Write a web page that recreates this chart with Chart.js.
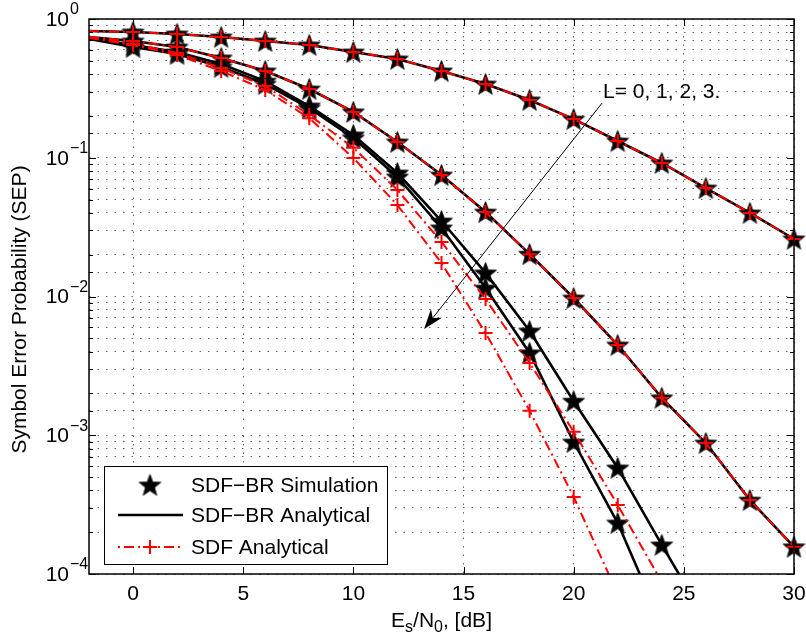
<!DOCTYPE html>
<html>
<head>
<meta charset="utf-8">
<script src="https://cdn.jsdelivr.net/npm/chart.js@4.4.0/dist/chart.umd.min.js"></script>
<style>
  html, body { margin: 0; padding: 0; background: #fff; }
  #contenedor { width: 806px; height: 640px; }
</style>
</head>
<body>
<div id="contenedor"><canvas id="graficoSEP" width="806" height="640"></canvas></div>
<script>
// Datos: SEP vs Es/N0 [dB]
const snrDb = [-2, 0, 2, 4, 6, 8, 10, 12, 14, 16, 18, 20, 22, 24, 26, 28, 30];
const xTicks = [0, 5, 10, 15, 20, 25, 30];
const yDecadas = [1, 0.1, 0.01, 0.001, 0.0001];
const yExponentes = ['0', '\u22121', '\u22122', '\u22123', '\u22124'];

// SDF-BR (simulación y analítico coinciden)
const brL0 = [0.819, 0.806, 0.780, 0.742, 0.694, 0.650, 0.578, 0.515, 0.422, 0.340, 0.261, 0.190, 0.132, 0.0917, 0.0605, 0.0400, 0.0260];
const brL1 = [0.742, 0.694, 0.628, 0.524, 0.422, 0.313, 0.214, 0.130, 0.0751, 0.0406, 0.0202, 0.00975, 0.00447, 0.00186, 0.000879, 0.000341, 0.000157];
const brL2 = [0.730, 0.650, 0.578, 0.474, 0.357, 0.236, 0.146, 0.0776, 0.0350, 0.0148, 0.00564, 0.00176, 0.000581, 0.000162, 0.0000466];
const brL3 = [0.718, 0.628, 0.560, 0.451, 0.340, 0.228, 0.139, 0.0727, 0.0312, 0.0115, 0.00392, 0.000894, 0.000233, 0.0000429];

// SDF analítico
const sdfL0 = [0.819, 0.806, 0.780, 0.742, 0.694, 0.650, 0.578, 0.515, 0.422, 0.340, 0.261, 0.190, 0.132, 0.0917, 0.0605, 0.0400, 0.0260];
const sdfL1 = [0.742, 0.694, 0.628, 0.524, 0.422, 0.313, 0.214, 0.130, 0.0751, 0.0406, 0.0202, 0.00975, 0.00447, 0.00186, 0.000879, 0.000341, 0.000157];
const sdfL2 = [0.742, 0.661, 0.569, 0.443, 0.329, 0.203, 0.118, 0.0586, 0.0247, 0.00959, 0.00332, 0.00106, 0.000314, 0.0000876];
const sdfL3 = [0.730, 0.650, 0.550, 0.422, 0.308, 0.193, 0.0996, 0.0456, 0.0174, 0.00546, 0.00150, 0.000359, 0.0000718];

// Anotación "L= 0, 1, 2, 3." (coordenadas en datos)
const textoAnotacion = 'L= 0, 1, 2, 3.';
const posTexto = { x: 21.33, y: 0.2696 };
const flechaInicio = { x: 21.29, y: 0.248 };
const flechaFin = { x: 13.21, y: 0.00583 };

const FUENTE = '"Liberation Sans", Arial, Helvetica, sans-serif';
const ROJO = '#ff0000';
const PUNTEADO = [1.5, 7];

function puntos(valores) {
    return valores.map((v, i) => ({ x: snrDb[i], y: v }));
}

// Pentagrama relleno como en MATLAB
function crearEstrella(r) {
    const c = document.createElement('canvas');
    const lado = Math.ceil(r * 2 + 2);
    c.width = lado; c.height = lado;
    const g = c.getContext('2d');
    const cx = lado / 2, cy = lado / 2 + r * 0.08;
    const ri = r * 0.42;
    g.beginPath();
    for (let k = 0; k < 10; k++) {
        const ang = -Math.PI / 2 + k * Math.PI / 5;
        const rad = k % 2 === 0 ? r : ri;
        const px = cx + rad * Math.cos(ang), py = cy + rad * Math.sin(ang);
        if (k === 0) g.moveTo(px, py); else g.lineTo(px, py);
    }
    g.closePath();
    g.fillStyle = '#000';
    g.fill();
    g.strokeStyle = '#222';
    g.lineWidth = 1;
    g.stroke();
    return c;
}
const estrella = crearEstrella(11.5);

const clipMarcas = { left: 14, right: 14, top: 14, bottom: 0 };
const ocultarIzq = (r) => ctx => (ctx.raw && ctx.raw.x < 0 ? 0 : r);

function serieSDF(valores) {
    return {
        data: puntos(valores),
        borderColor: ROJO,
        borderWidth: 2,
        borderDash: [10, 4, 2, 4],
        pointStyle: 'cross',
        pointRadius: ocultarIzq(7),
        pointBorderColor: ROJO,
        pointBorderWidth: 2,
        fill: false,
        tension: 0,
        clip: clipMarcas
    };
}
function serieBR(valores) {
    return {
        data: puntos(valores),
        borderColor: '#000',
        borderWidth: 2.6,
        pointRadius: 0,
        fill: false,
        tension: 0,
        clip: 0
    };
}
function serieSim(valores) {
    return {
        data: puntos(valores),
        showLine: false,
        pointStyle: estrella,
        pointRadius: ocultarIzq(11),
        clip: clipMarcas
    };
}

function linea(ctx, x1, y1, x2, y2) {
    ctx.beginPath();
    ctx.moveTo(x1, y1);
    ctx.lineTo(x2, y2);
    ctx.stroke();
}

function esDecada(v) {
    const l = Math.log10(v);
    return Math.abs(l - Math.round(l)) < 1e-6;
}

// Marco, ticks, etiquetas, leyenda y anotación al estilo MATLAB
const decoracion = {
    id: 'decoracion',
    afterDraw(chart) {
        const { ctx, chartArea: a, scales: { x, y } } = chart;
        ctx.save();
        ctx.strokeStyle = '#000';
        ctx.fillStyle = '#000';

        // ticks del eje x (abajo y arriba)
        ctx.lineWidth = 1;
        xTicks.forEach(t => {
            const px = Math.round(x.getPixelForValue(t)) + 0.5;
            linea(ctx, px, a.bottom, px, a.bottom - 7);
            linea(ctx, px, a.top, px, a.top + 7);
        });
        // ticks del eje y (izquierda y derecha)
        y.ticks.forEach(t => {
            const py = Math.round(y.getPixelForValue(t.value)) + 0.5;
            const largo = esDecada(t.value) ? 7 : 4;
            linea(ctx, a.left, py, a.left + largo, py);
            linea(ctx, a.right, py, a.right - largo, py);
        });

        // marco
        ctx.lineWidth = 1.5;
        ctx.strokeRect(a.left, a.top, a.right - a.left, a.bottom - a.top);

        // etiquetas eje x
        ctx.font = '21px ' + FUENTE;
        ctx.textAlign = 'center';
        ctx.textBaseline = 'alphabetic';
        xTicks.forEach(t => {
            ctx.fillText(String(t), x.getPixelForValue(t), a.bottom + 26);
        });

        // etiquetas eje y: 10^n
        yDecadas.forEach((d, i) => {
            const py = y.getPixelForValue(d);
            ctx.font = '21px ' + FUENTE;
            ctx.textAlign = 'right';
            ctx.textBaseline = 'middle';
            ctx.fillText('10', 69, py + 1);
            ctx.font = '16px ' + FUENTE;
            ctx.textAlign = 'left';
            ctx.fillText(yExponentes[i], 70, py - 9);
        });

        // título eje y
        ctx.save();
        ctx.translate(20, (a.top + a.bottom) / 2 + 13);
        ctx.rotate(-Math.PI / 2);
        ctx.font = '21px ' + FUENTE;
        ctx.textAlign = 'center';
        ctx.textBaseline = 'middle';
        ctx.fillText('Symbol Error Probability (SEP)', 0, 0);
        ctx.restore();

        // título eje x: E_s/N_0, [dB]
        const partes = [
            { t: 'E', sub: false }, { t: 's', sub: true },
            { t: '/N', sub: false }, { t: '0', sub: true },
            { t: ', [dB]', sub: false }
        ];
        let ancho = 0;
        partes.forEach(p => {
            ctx.font = (p.sub ? '16px ' : '21px ') + FUENTE;
            p.w = ctx.measureText(p.t).width;
            ancho += p.w;
        });
        let cx = (a.left + a.right) / 2 - ancho / 2;
        ctx.textAlign = 'left';
        ctx.textBaseline = 'alphabetic';
        partes.forEach(p => {
            ctx.font = (p.sub ? '16px ' : '21px ') + FUENTE;
            ctx.fillText(p.t, cx, p.sub ? 632 : 627);
            cx += p.w;
        });

        // anotación con flecha
        const x0 = x.getPixelForValue(flechaInicio.x), y0 = y.getPixelForValue(flechaInicio.y);
        const x1 = x.getPixelForValue(flechaFin.x), y1 = y.getPixelForValue(flechaFin.y);
        ctx.lineWidth = 1;
        linea(ctx, x0, y0, x1 + (x0 - x1) * 0.05, y1 + (y0 - y1) * 0.05);
        const ang = Math.atan2(y1 - y0, x1 - x0);
        const L = 20, W = 7;
        const bx = x1 - L * Math.cos(ang), by = y1 - L * Math.sin(ang);
        const mx = x1 - L * 0.7 * Math.cos(ang), my = y1 - L * 0.7 * Math.sin(ang);
        ctx.beginPath();
        ctx.moveTo(x1, y1);
        ctx.lineTo(bx + W * Math.sin(ang), by - W * Math.cos(ang));
        ctx.lineTo(mx, my);
        ctx.lineTo(bx - W * Math.sin(ang), by + W * Math.cos(ang));
        ctx.closePath();
        ctx.fill();
        ctx.font = '21px ' + FUENTE;
        ctx.textAlign = 'left';
        ctx.textBaseline = 'alphabetic';
        ctx.fillText(textoAnotacion, x.getPixelForValue(posTexto.x), y.getPixelForValue(posTexto.y));

        // leyenda
        const lx = 104.5, ly = 466.5, lw = 283, lh = 98;
        ctx.fillStyle = '#fff';
        ctx.fillRect(lx, ly, lw, lh);
        ctx.strokeStyle = '#000';
        ctx.lineWidth = 1;
        ctx.strokeRect(lx, ly, lw, lh);
        ctx.fillStyle = '#000';
        ctx.drawImage(estrella, 150 - estrella.width / 2, 485 - estrella.height / 2);
        ctx.lineWidth = 2.6;
        linea(ctx, 118, 515, 183, 515);
        ctx.strokeStyle = ROJO;
        ctx.lineWidth = 2;
        ctx.setLineDash([2, 4, 10, 4]);
        linea(ctx, 118, 547, 183, 547);
        ctx.setLineDash([]);
        linea(ctx, 143, 547, 157, 547);
        linea(ctx, 150, 540, 150, 554);
        ctx.fillStyle = '#000';
        ctx.font = '21px ' + FUENTE;
        ctx.textAlign = 'left';
        ctx.textBaseline = 'middle';
        ctx.fillText('SDF\u2212BR Simulation', 191, 486);
        ctx.fillText('SDF\u2212BR Analytical', 191, 516);
        ctx.fillText('SDF Analytical', 191, 548);

        ctx.restore();
    }
};

const ctx = document.getElementById('graficoSEP').getContext('2d');
new Chart(ctx, {
    type: 'line',
    data: {
        datasets: [
            serieSDF(sdfL0), serieSDF(sdfL1), serieSDF(sdfL2), serieSDF(sdfL3),
            serieBR(brL0), serieBR(brL1), serieBR(brL2), serieBR(brL3),
            serieSim(brL0), serieSim(brL1), serieSim(brL2), serieSim(brL3)
        ]
    },
    options: {
        responsive: false,
        animation: false,
        events: [],
        layout: { padding: { top: 19, right: 12, left: 0, bottom: 0 } },
        plugins: { legend: { display: false }, tooltip: { enabled: false } },
        scales: {
            x: {
                type: 'linear',
                min: -2,
                max: 30,
                afterBuildTicks: s => { s.ticks = xTicks.map(v => ({ value: v })); },
                afterFit: s => { s.height = 66; },
                ticks: { display: false },
                border: { display: false, dash: PUNTEADO },
                grid: { color: 'rgba(0,0,0,0.6)', lineWidth: 1, drawTicks: false }
            },
            y: {
                type: 'logarithmic',
                min: 0.0001,
                max: 1,
                afterFit: s => { s.width = 89; },
                ticks: { display: false },
                border: { display: false, dash: PUNTEADO },
                grid: { color: 'rgba(0,0,0,0.6)', lineWidth: 1, drawTicks: false }
            }
        }
    },
    plugins: [decoracion]
});
</script>
</body>
</html>
